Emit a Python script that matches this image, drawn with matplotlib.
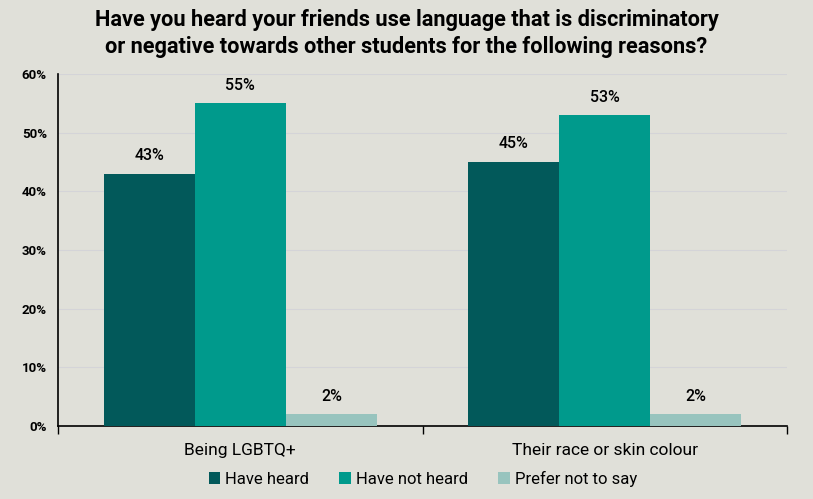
import matplotlib.pyplot as plt
import numpy as np

# Datos
categorias = ['Being LGBTQ+', 'Their race or skin colour']
series = ['Have heard', 'Have not heard', 'Prefer not to say']
have_heard = [43, 45]
have_not_heard = [55, 53]
prefer_not = [2, 2]
colores = ['#02595a', '#009a8c', '#98c4be']
fondo = '#e0e0d9'

plt.rcParams['font.family'] = ['Roboto', 'DejaVu Sans']

fig = plt.figure(figsize=(8.13, 4.99), dpi=100, facecolor=fondo)
ax = fig.add_axes([58 / 813, 1 - 426 / 499, (787 - 58) / 813, (426 - 74) / 499])
ax.set_facecolor(fondo)

x = np.arange(len(categorias))
ancho = 0.25
valores = [have_heard, have_not_heard, prefer_not]
for i, (nombre, vals) in enumerate(zip(series, valores)):
    pos = x + (i - 1) * ancho
    barras = ax.bar(pos, vals, ancho, color=colores[i], label=nombre, zorder=3)
    for b, v in zip(barras, vals):
        ax.text(b.get_x() + b.get_width() / 2, v + 1.8, f'{v}%',
                ha='center', va='bottom', fontsize=11.5, fontweight='medium')

ax.set_ylim(0, 60)
ax.set_xlim(-0.5, 1.5)
ax.set_yticks(range(0, 61, 10))
ax.set_yticklabels([f'{t}%' for t in range(0, 61, 10)], fontsize=9.5, fontweight='bold')
ax.tick_params(axis='y', length=0, pad=8)
ax.grid(axis='y', color='#d4d4d8', linewidth=0.8, zorder=0)

ax.set_xticks([-0.5, 0.5, 1.5])
ax.set_xticklabels([])
ax.tick_params(axis='x', which='major', length=6, width=1, direction='out')
ax.set_xticks(x, minor=True)
ax.set_xticklabels(categorias, minor=True, fontsize=12.5)
ax.tick_params(axis='x', which='minor', length=0, pad=12)

for lado in ['top', 'right']:
    ax.spines[lado].set_visible(False)
ax.spines['left'].set_linewidth(1.2)
ax.spines['bottom'].set_linewidth(1.2)

fig.text(0.5, 0.982, 'Have you heard your friends use language that is discriminatory\n'
         'or negative towards other students for the following reasons?',
         ha='center', va='top', fontsize=15.7, fontweight='bold', linespacing=1.3)

fig.legend(loc='center', bbox_to_anchor=(0.52, 0.04), ncol=3, frameon=False,
           fontsize=12, handlelength=0.7, handleheight=0.7, handletextpad=0.3,
           columnspacing=1.8)

fig.savefig('out.png', dpi=100, facecolor=fondo)
